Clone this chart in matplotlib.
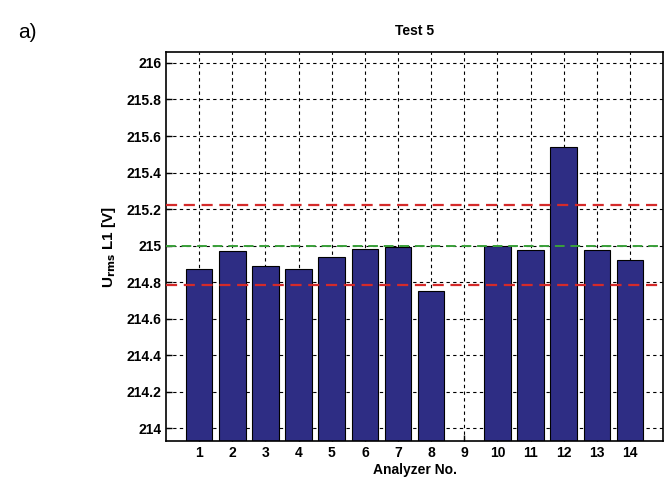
import numpy as np
import matplotlib
matplotlib.use('Agg')
import matplotlib.pyplot as plt

plt.rcParams['font.family'] = ['Liberation Sans', 'DejaVu Sans']

# values (analyzer 9 has no result)
analyzers = list(range(1, 15))
u_rms = [214.87, 214.97, 214.89, 214.87, 214.94, 214.98, 214.99, 214.75,
         np.nan, 215.00, 214.975, 215.54, 214.975, 214.92]
ref_value = 215.0
upper_limit = 215.22
lower_limit = 214.785
y_ticks = [214, 214.2, 214.4, 214.6, 214.8, 215, 215.2, 215.4, 215.6, 215.8, 216]
y_tick_labels = ['214', '214.2', '214.4', '214.6', '214.8', '215', '215.2', '215.4', '215.6', '215.8', '216']

fig = plt.figure(figsize=(6.7, 4.93), dpi=100)
ax = fig.add_axes([0.2478, 0.1055, 0.742, 0.789])

ax.bar(analyzers, u_rms, width=0.8, color='#2e2d84', edgecolor='black', linewidth=0.8, zorder=2)
ax.axhline(upper_limit, color='#d42a2a', linestyle=(0, (5, 3)), linewidth=1.6, zorder=3)
ax.axhline(lower_limit, color='#d42a2a', linestyle=(0, (5, 3)), linewidth=1.6, zorder=3)
ax.axhline(ref_value, color='#3aa03a', linestyle=(0, (5, 3)), linewidth=1.4, zorder=3)

ax.set_xlim(0, 15)
ax.set_ylim(213.93, 216.06)
ax.set_xticks(analyzers)
ax.set_yticks(y_ticks)
ax.set_yticklabels(y_tick_labels)
ax.grid(True, color='black', linestyle=(0, (3, 3)), linewidth=0.8, zorder=1)
ax.set_axisbelow(True)
ax.tick_params(direction='in', length=4, width=1, labelsize=10)
for lbl in ax.get_xticklabels() + ax.get_yticklabels():
    lbl.set_fontweight('bold')
for sp in ax.spines.values():
    sp.set_linewidth(1.2)

ax.set_title('Test 5', fontsize=10, fontweight='bold', pad=12)
ax.set_xlabel('Analyzer No.', fontsize=10, fontweight='bold', labelpad=2)
ax.set_ylabel(r'U$_{\mathbf{rms}}$ L1 [V]', fontsize=11, fontweight='bold', labelpad=6)

fig.text(0.027, 0.935, 'a)', fontsize=15, ha='left', va='center')

fig.savefig('out.png', dpi=100)
